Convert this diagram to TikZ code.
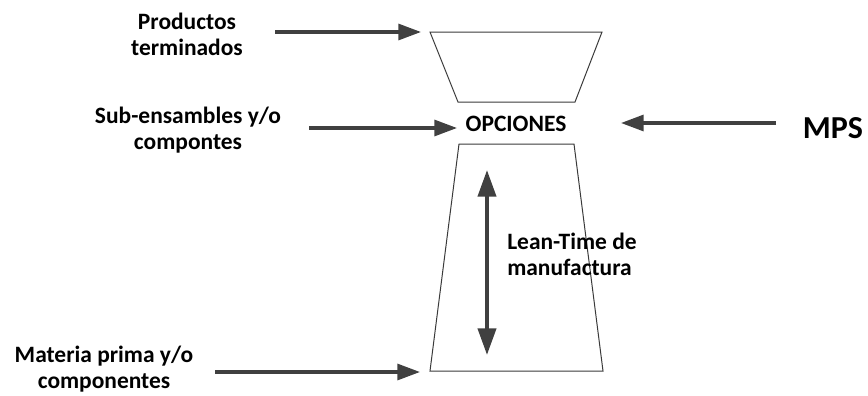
\documentclass[tikz,border=0pt]{standalone}
\usepackage{fontspec}
\setmainfont{Carlito}
\usetikzlibrary{arrows.meta}
\definecolor{arrowgray}{HTML}{404040}
\definecolor{edgegray}{HTML}{3A3A3A}
\begin{document}
\begin{tikzpicture}[x=0.75pt,y=-0.75pt,
  txt/.style={font=\bfseries\fontsize{17.6}{19.5}\selectfont, align=center, inner sep=0pt, text=black},
  flow/.style={draw=arrowgray, line width=2.3pt, -{Triangle[length=17pt,width=12pt]}},
  span/.style={draw=arrowgray, line width=3pt, {Triangle[length=20pt,width=13.5pt]}-{Triangle[length=20pt,width=13.5pt]}},
  funnel/.style={draw=edgegray, line width=0.75pt, line join=miter}]
\useasboundingbox (0,0) rectangle (868,396);

% upper funnel (finished products)
\draw[funnel] (430,32) -- (602,32) -- (575,102) -- (458,102) -- cycle;
% lower funnel (manufacturing)
\draw[funnel] (459,144) -- (574,144) -- (603,371) -- (430,371) -- cycle;

% labels
\node[txt] (prod) at (187,34) {Productos\\terminados};
\node[txt] (sub) at (188,130) {Sub-ensambles y/o\\compontes};
\node[txt] (mat) at (104,369) {Materia prima y/o\\componentes};
\node[txt] (opc) at (516,124) {OPCIONES};
\node[txt, font=\bfseries\fontsize{24}{28}\selectfont] (mps) at (833,128) {MPS};
\node[txt, align=left, anchor=west] (lean) at (507,254) {Lean-Time de\\manufactura};

% arrow end points
\coordinate (prodA) at (275,32);
\coordinate (prodB) at (421,32);
\coordinate (subA) at (309,128);
\coordinate (subB) at (457,128);
\coordinate (matA) at (215,372);
\coordinate (matB) at (420,372);
\coordinate (mpsA) at (776,123);
\coordinate (mpsB) at (621,123);
\coordinate (leanTop) at (487,170);
\coordinate (leanBot) at (487,355);

% connectors
\draw[flow] (prodA) -- (prodB);
\draw[flow] (subA) -- (subB);
\draw[flow] (matA) -- (matB);
\draw[flow] (mpsA) -- (mpsB);
\draw[span] (leanTop) -- (leanBot);
\end{tikzpicture}
\end{document}
